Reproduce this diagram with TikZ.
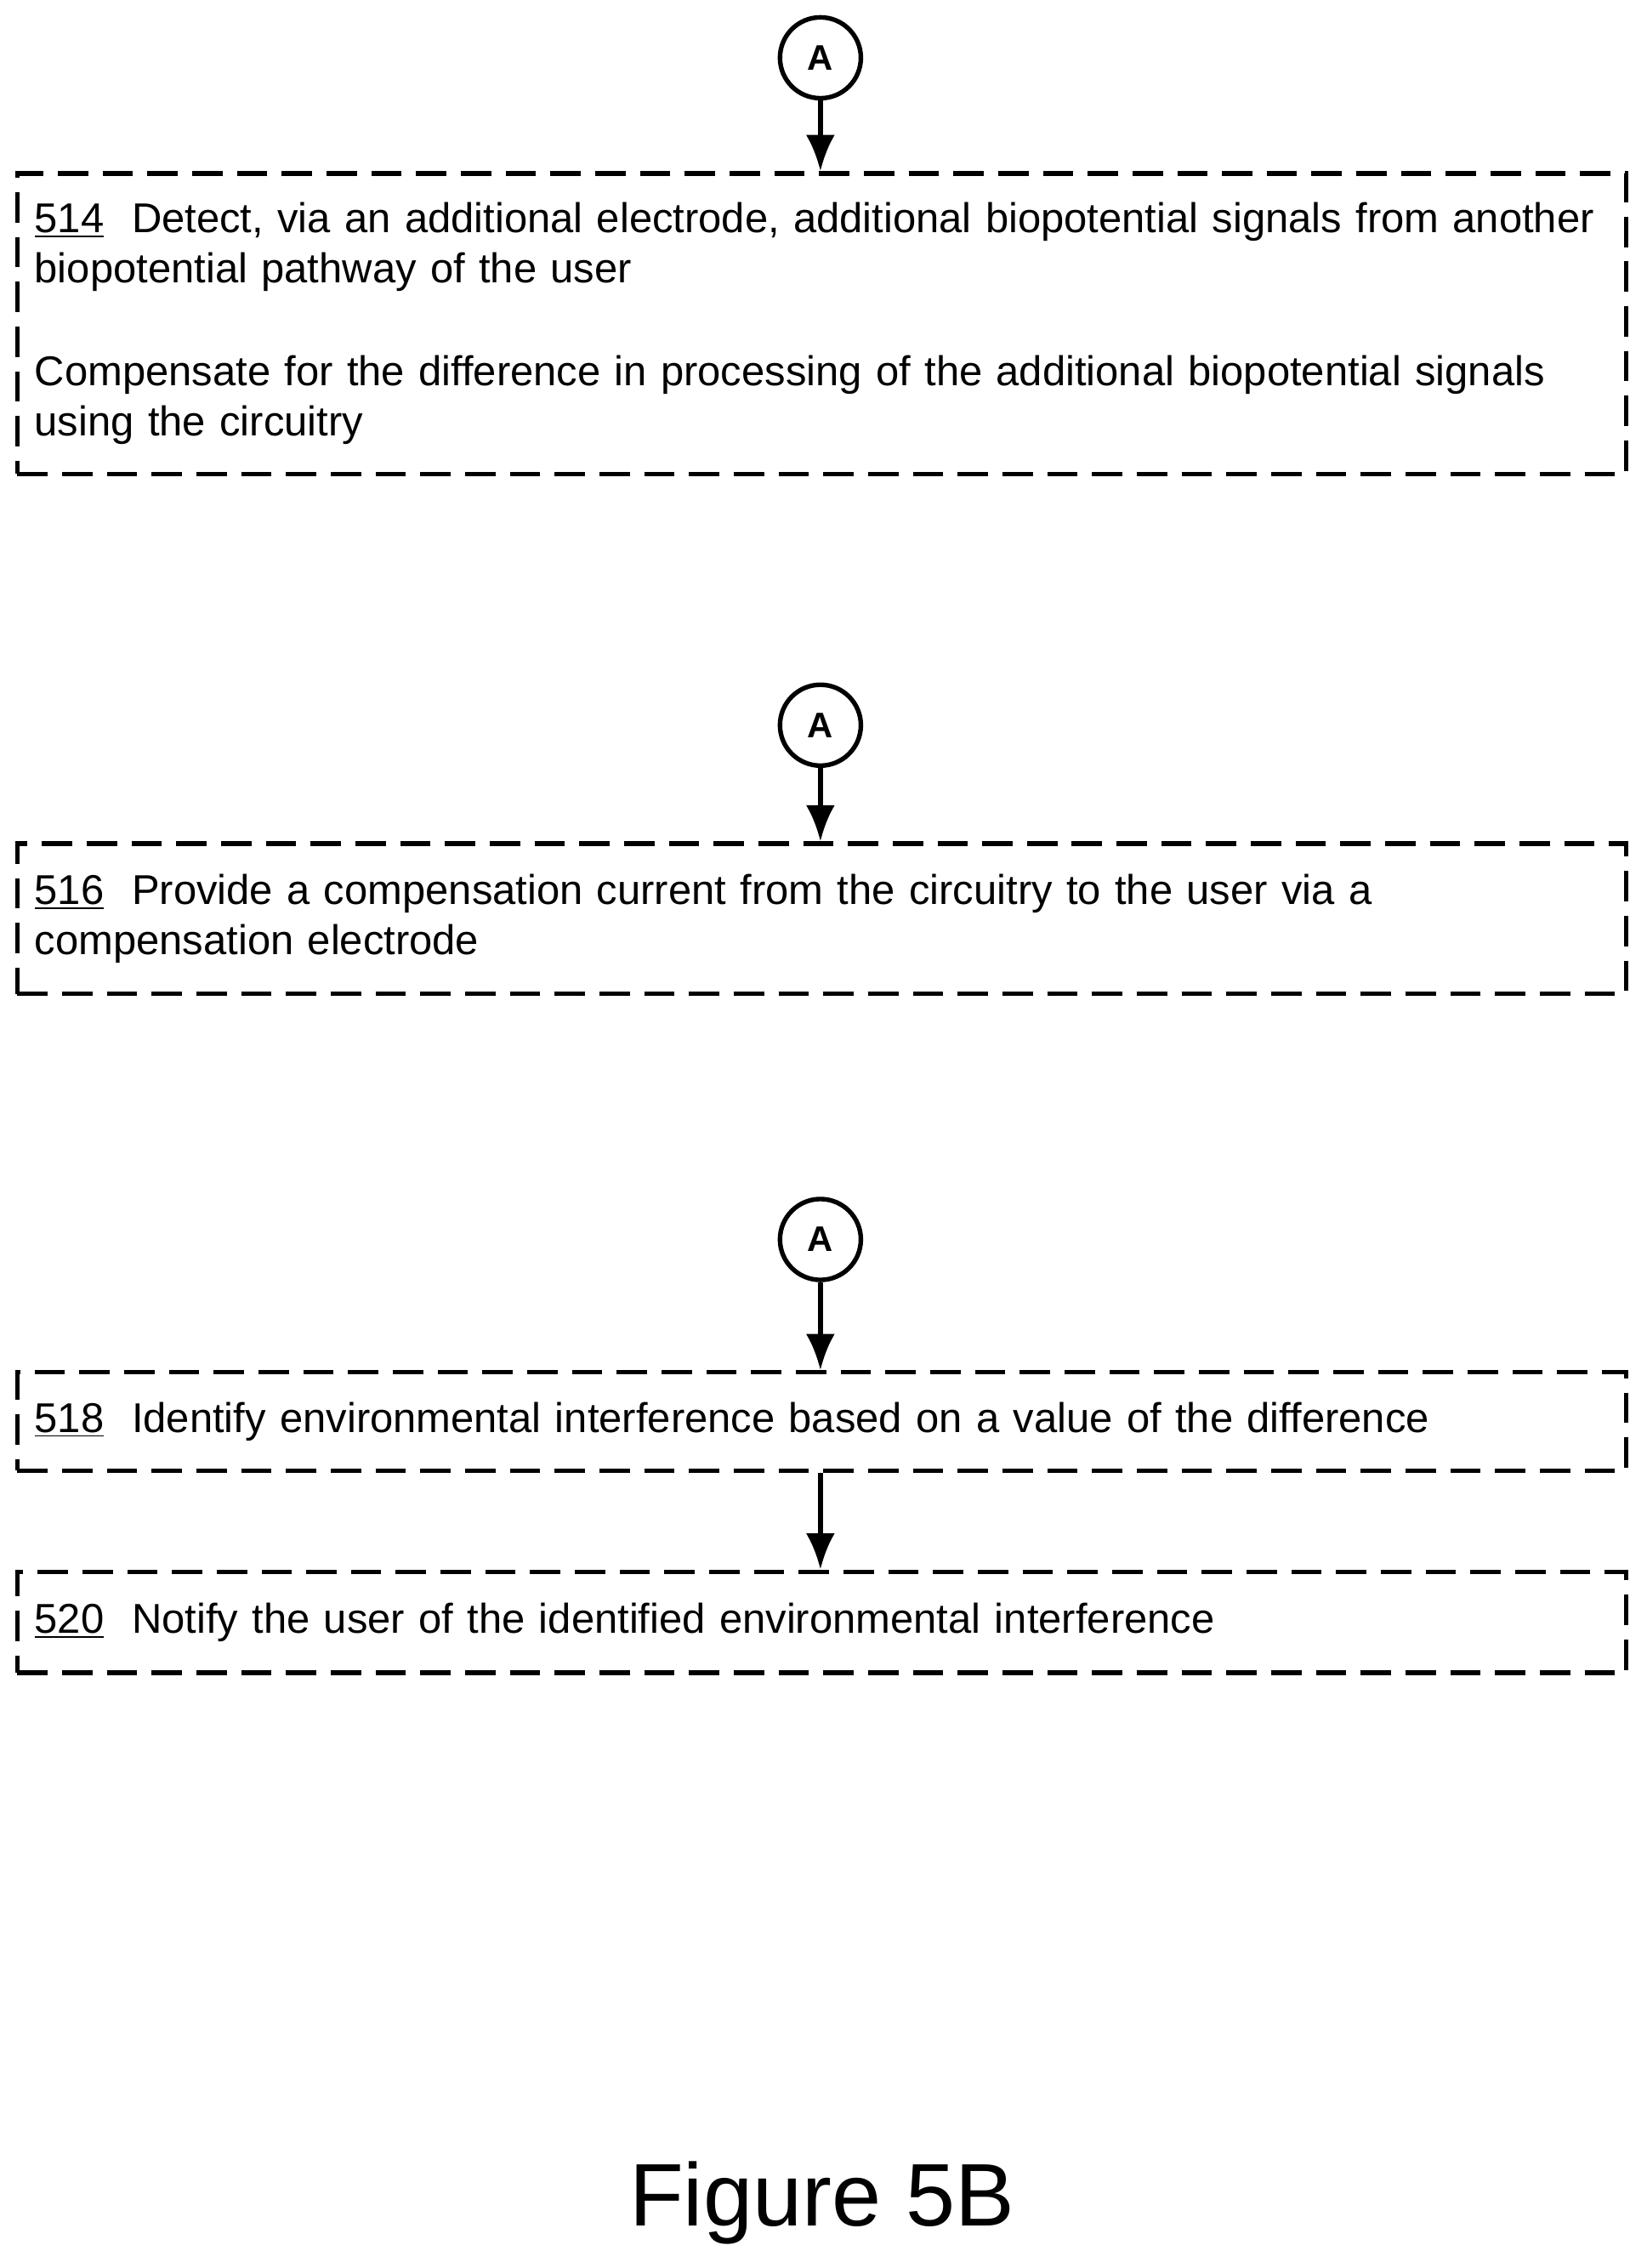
\documentclass[tikz,border=0pt]{standalone}
\usepackage{fontspec}
\setmainfont{Liberation Sans}
\usetikzlibrary{positioning}
\tikzset{>=latex}
\tikzset{
  stepbox/.style={draw, dashed, dash pattern=on 0.42cm off 0.2cm, line width=1.8pt,
    minimum width=22.28cm, text width=21.8cm, align=left, inner sep=0pt,
    font=\fontsize{16.4pt}{0.7cm}\selectfont},
  conn/.style={draw, circle, line width=1.8pt, minimum size=1.12cm, inner sep=0pt,
    font=\fontsize{14pt}{15pt}\selectfont\bfseries},
  flow/.style={->, line width=1.8pt, >={Latex[length=0.5cm,width=0.4cm]}}
}
\usetikzlibrary{arrows.meta}
\begin{document}
\begin{tikzpicture}
  \useasboundingbox (0,0) rectangle (22.8,-31.4);
  % first variant
  \node[conn] (a1) at (11.36,-0.8) {A};
  \node[stepbox, minimum height=4.16cm] (s514) at (11.38,-4.48)
    {\underline{514}\ \ Detect, via an additional electrode, additional biopotential signals from another\\
     biopotential pathway of the user\\[0.72cm]
     Compensate for the difference in processing of the additional biopotential signals\\
     using the circuitry};
  \draw[flow] (a1) -- (s514.north -| a1);
  % second variant
  \node[conn] (a2) at (11.36,-10.04) {A};
  \node[stepbox, minimum height=2.08cm] (s516) at (11.38,-12.72)
    {\underline{516}\ \ Provide a compensation current from the circuitry to the user via a\\
     compensation electrode};
  \draw[flow] (a2) -- (s516.north -| a2);
  % third variant
  \node[conn] (a3) at (11.36,-17.16) {A};
  \node[stepbox, minimum height=1.36cm] (s518) at (11.38,-19.68)
    {\underline{518}\ \ Identify environmental interference based on a value of the difference};
  \node[stepbox, minimum height=1.4cm] (s520) at (11.38,-22.46)
    {\underline{520}\ \ Notify the user of the identified environmental interference};
  \draw[flow] (a3) -- (s518.north -| a3);
  \draw[flow] (s518.south -| a3) -- (s520.north -| a3);
  \node[font=\fontsize{35pt}{40pt}\selectfont] (fig) at (11.38,-30.5) {Figure 5B};
\end{tikzpicture}
\end{document}
